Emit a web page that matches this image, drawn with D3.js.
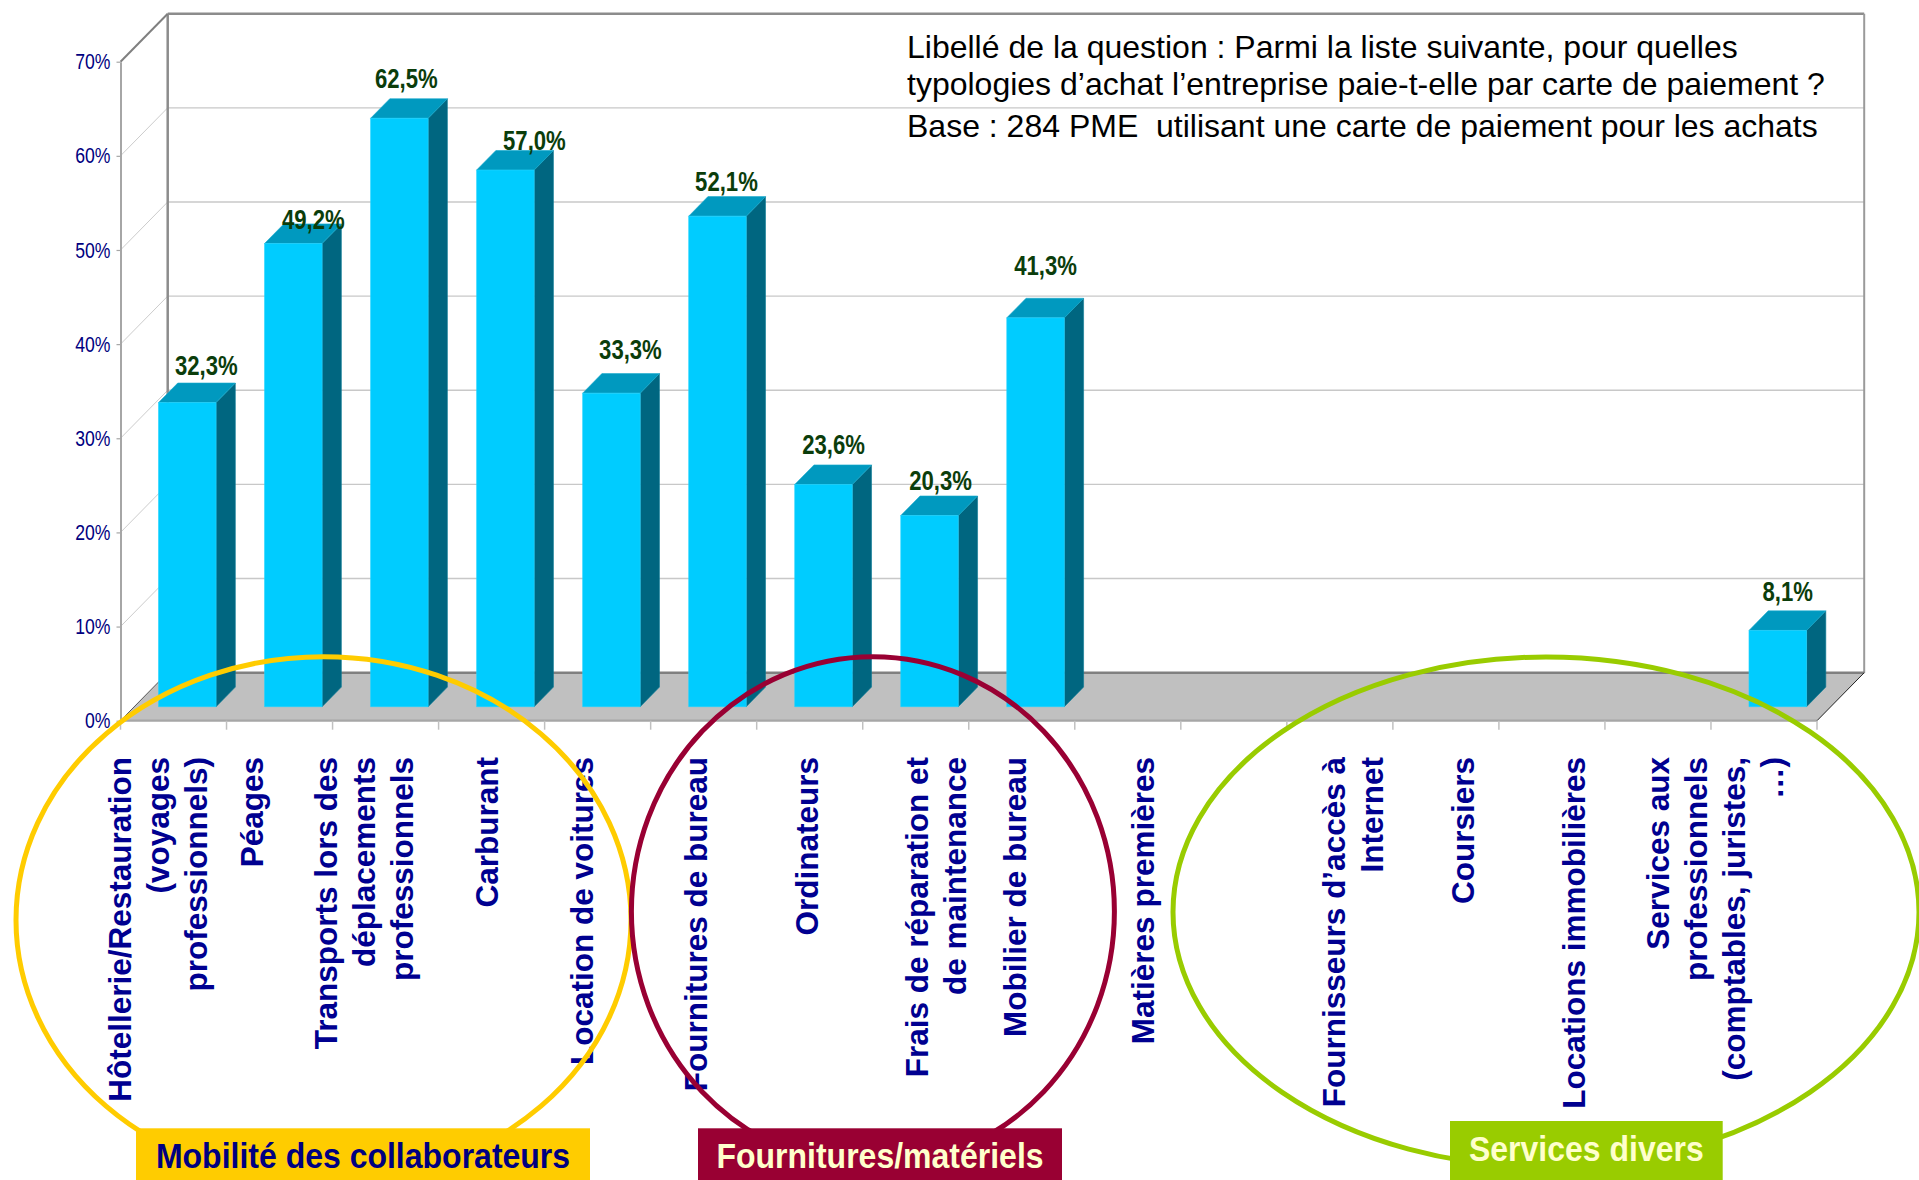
<!DOCTYPE html>
<html lang="fr">
<head>
<meta charset="utf-8">
<title>Typologies d’achat payées par carte de paiement</title>
<script src="https://cdn.jsdelivr.net/npm/d3@7"></script>
<style>
  html, body { margin: 0; padding: 0; background: #ffffff; }
  svg { display: block; }
  text { font-family: "Liberation Sans", Arial, Helvetica, sans-serif; }
</style>
</head>
<body>
<svg id="chart" width="1919" height="1180"></svg>
<script>
// ---- Data -----------------------------------------------------------------
// Purchase categories; "\n" marks where an axis label wraps.
const categories = [
  "Hôtellerie/Restauration\n(voyages\nprofessionnels)",
  "Péages",
  "Transports lors des\ndéplacements\nprofessionnels",
  "Carburant",
  "Location de voitures",
  "Fournitures de bureau",
  "Ordinateurs",
  "Frais de réparation et\nde maintenance",
  "Mobilier de bureau",
  "Matières premières",
  "",
  "Fournisseurs d’accès à\nInternet",
  "Coursiers",
  "Locations immobilières",
  "",
  "Services aux\nprofessionnels\n(comptables, juristes,\n…)"
];

// Share of companies paying the category by card (%); null = no bar.
const values = [32.3, 49.2, 62.5, 57.0, 33.3, 52.1, 23.6, 20.3, 41.3,
                null, null, null, null, null, null, 8.1];

const yTicks = [0, 10, 20, 30, 40, 50, 60, 70];
const yTickLabels = ["0%", "10%", "20%", "30%", "40%", "50%", "60%", "70%"];

const groupNames = ["Mobilité des collaborateurs", "Fournitures/matériels", "Services divers"];

const questionLines = [
  "Libellé de la question : Parmi la liste suivante, pour quelles",
  "typologies d’achat l’entreprise paie-t-elle par carte de paiement ?",
  "Base : 284 PME  utilisant une carte de paiement pour les achats"
];

// ---- Layout ---------------------------------------------------------------
const W = 1919, H = 1180;
const FRONT_LEFT = 120.5, FRONT_RIGHT = 1817;
const FLOOR_Y = 720.7, TOP_Y = 61.7;
const DEPTH_X = 47.2, DEPTH_Y = -48;      // receding vector of the 3D box
const BAR_Z0 = 0.292, BAR_Z1 = 0.70;       // bar depth inside the box
const BAR_FRACTION = 0.543;                // bar width / category slot

// horizontal nudges of the wrapped category labels, per category
const LABEL_SHIFT = [-13, -25, -19, -2, -13, -5, 0, 23, -4, 18, 0, 16, 20, 25, 0, -46];
// hand-placed offsets of the value labels
const VALUE_NUDGE = [[9, 2], [10, 15], [-3, -1], [19, 10], [9, -5], [-1, 4], [0, -1], [1, 4], [0, -13],
                     [0, 0], [0, 0], [0, 0], [0, 0], [0, 0], [0, 0], [0, 0]];

const groupStyle = [
  { color: "#FFCC00", text: "#000080", ellipse: [323.5, 920, 307.5, 263.3], box: [136, 1128.3, 454, 70] },
  { color: "#990033", text: "#FFFFCC", ellipse: [872.9, 911.5, 241.5, 254.8], box: [698, 1128.3, 364, 70] },
  { color: "#99CC00", text: "#FFFFCC", ellipse: [1546, 912, 373, 255], box: [1450, 1121, 272.7, 70] }
];

const svg = d3.select("#chart");
svg.append("rect").attr("width", W).attr("height", H).attr("fill", "#ffffff");

const x = d3.scaleBand()
  .domain(d3.range(categories.length))
  .range([FRONT_LEFT, FRONT_RIGHT])
  .paddingInner(0).paddingOuter(0);
const y = d3.scaleLinear().domain([0, 70]).range([FLOOR_Y, TOP_Y]);

// project a front-plane x and a value at depth z (0 = front, 1 = back wall)
const proj = (xf, v, z) => [xf + z * DEPTH_X, y(v) + z * DEPTH_Y];
const poly = pts => pts.map(p => p.join(",")).join(" ");

// ---- Walls ----------------------------------------------------------------
const walls = svg.append("g");
walls.append("polygon")
  .attr("points", poly([proj(FRONT_LEFT, 0, 1), proj(FRONT_LEFT, 70, 1), proj(FRONT_RIGHT, 70, 1), proj(FRONT_RIGHT, 0, 1)]))
  .attr("fill", "#ffffff");

const gridValues = yTicks.filter(v => v > 0 && v < 70);
walls.selectAll("line.grid").data(gridValues).join("line")
  .attr("class", "grid")
  .attr("x1", v => proj(FRONT_LEFT, v, 1)[0]).attr("y1", v => proj(FRONT_LEFT, v, 1)[1])
  .attr("x2", v => proj(FRONT_RIGHT, v, 1)[0]).attr("y2", v => proj(FRONT_RIGHT, v, 1)[1])
  .attr("stroke", "#c8c8c8").attr("stroke-width", 1.4);
walls.selectAll("line.side").data(gridValues).join("line")
  .attr("class", "side")
  .attr("x1", v => proj(FRONT_LEFT, v, 0)[0]).attr("y1", v => proj(FRONT_LEFT, v, 0)[1])
  .attr("x2", v => proj(FRONT_LEFT, v, 1)[0]).attr("y2", v => proj(FRONT_LEFT, v, 1)[1])
  .attr("stroke", "#cccccc").attr("stroke-width", 1);

// wall borders
const edge = (a, b, color, w) => walls.append("line")
  .attr("x1", a[0]).attr("y1", a[1]).attr("x2", b[0]).attr("y2", b[1])
  .attr("stroke", color).attr("stroke-width", w);
edge(proj(FRONT_LEFT, 70, 1), proj(FRONT_RIGHT, 70, 1), "#8c8c8c", 2.5);
edge(proj(FRONT_LEFT, 70, 1), proj(FRONT_LEFT, 0, 1), "#8c8c8c", 2.5);
edge(proj(FRONT_RIGHT, 70, 1), proj(FRONT_RIGHT, 0, 1), "#9a9a9a", 2);
edge(proj(FRONT_LEFT, 70, 0), proj(FRONT_LEFT, 70, 1), "#808080", 2);

// floor
walls.append("polygon")
  .attr("points", poly([proj(FRONT_LEFT, 0, 0), proj(FRONT_LEFT, 0, 1), proj(FRONT_RIGHT, 0, 1), proj(FRONT_RIGHT, 0, 0)]))
  .attr("fill", "#c0c0c0");
edge(proj(FRONT_LEFT, 0, 1), proj(FRONT_RIGHT, 0, 1), "#808080", 2.5);
edge(proj(FRONT_LEFT, 0, 0), proj(FRONT_RIGHT, 0, 0), "#a6a6a6", 2.2);
edge(proj(FRONT_RIGHT, 0, 0), proj(FRONT_RIGHT, 0, 1), "#222222", 1);
edge(proj(FRONT_LEFT, 0, 0), proj(FRONT_LEFT, 0, 1), "#555555", 1);

// category tick marks under the floor edge
walls.selectAll("line.ctick").data(d3.range(categories.length + 1)).join("line")
  .attr("class", "ctick")
  .attr("x1", i => FRONT_LEFT + i * x.step()).attr("x2", i => FRONT_LEFT + i * x.step())
  .attr("y1", FLOOR_Y).attr("y2", FLOOR_Y + 9)
  .attr("stroke", "#c0c0c0").attr("stroke-width", 1.5);

// ---- Value axis -----------------------------------------------------------
const TICK_SX = 0.8;
const yAxis = svg.append("g")
  .attr("transform", `translate(${FRONT_LEFT},0)`)
  .call(d3.axisLeft(y).tickValues(yTicks).tickFormat((d, i) => yTickLabels[i])
    .tickSize(4).tickSizeOuter(0).tickPadding(6));
yAxis.select(".domain").attr("stroke", "#a6a6a6").attr("stroke-width", 2);
yAxis.selectAll(".tick line").attr("stroke", "#a6a6a6").attr("stroke-width", 1.2);
yAxis.selectAll(".tick text")
  .attr("x", -10 / TICK_SX)
  .attr("transform", `scale(${TICK_SX},1)`)
  .attr("font-size", 22)
  .attr("font-family", "Liberation Sans, Arial, sans-serif")
  .attr("fill", "#000080");

// ---- Bars -----------------------------------------------------------------
const barData = values.map((v, i) => ({ i, v })).filter(d => d.v !== null);
const barW = x.bandwidth() * BAR_FRACTION;
const barLeft = i => x(i) + (x.bandwidth() - barW) / 2;

const bars = svg.append("g").selectAll("g.bar").data(barData).join("g").attr("class", "bar");
bars.append("polygon")
  .attr("points", d => {
    const xr = barLeft(d.i) + barW;
    return poly([proj(xr, 0, BAR_Z0), proj(xr, d.v, BAR_Z0), proj(xr, d.v, BAR_Z1), proj(xr, 0, BAR_Z1)]);
  })
  .attr("fill", "#006680").attr("stroke", "#0a7a96").attr("stroke-width", 0.6);
bars.append("polygon")
  .attr("points", d => {
    const xl = barLeft(d.i), xr = xl + barW;
    return poly([proj(xl, d.v, BAR_Z0), proj(xr, d.v, BAR_Z0), proj(xr, d.v, BAR_Z1), proj(xl, d.v, BAR_Z1)]);
  })
  .attr("fill", "#0099bf").attr("stroke", "#14aacc").attr("stroke-width", 0.6);
bars.append("polygon")
  .attr("points", d => {
    const xl = barLeft(d.i), xr = xl + barW;
    return poly([proj(xl, 0, BAR_Z0), proj(xl, d.v, BAR_Z0), proj(xr, d.v, BAR_Z0), proj(xr, 0, BAR_Z0)]);
  })
  .attr("fill", "#00ccff").attr("stroke", "#22d4ff").attr("stroke-width", 0.6);

// value labels above each bar
const VALUE_SX = 0.79;
const fmt = v => v.toFixed(1).replace(".", ",") + "%";
svg.append("g").selectAll("text").data(barData).join("text")
  .attr("transform", d => {
    const cx = proj(barLeft(d.i) + barW / 2, d.v, BAR_Z0)[0] + 10 + VALUE_NUDGE[d.i][0];
    const by = proj(barLeft(d.i), d.v, BAR_Z1)[1] - 10 + VALUE_NUDGE[d.i][1];
    return `translate(${cx},${by}) scale(${VALUE_SX},1)`;
  })
  .attr("text-anchor", "middle")
  .attr("font-size", 28).attr("font-weight", "bold")
  .attr("fill", "#0b3d0b")
  .text(d => fmt(d.v));

// ---- Question text --------------------------------------------------------
const qBaselines = [58.3, 95, 136.7];
svg.append("g").selectAll("text").data(questionLines).join("text")
  .attr("x", 907).attr("y", (d, i) => qBaselines[i])
  .attr("font-size", 32).attr("fill", "#000000")
  .style("white-space", "pre")
  .text(d => d);

// ---- Category labels (rotated, wrapped) -----------------------------------
const LABEL_TOP = 757, LINE_STEP = 38, LABEL_SIZE = 31.5;
const labelG = svg.append("g");
categories.forEach((name, i) => {
  if (!name) return;
  const lines = name.split("\n");
  const center = x(i) + x.bandwidth() / 2 + LABEL_SHIFT[i];
  const b1 = center - (lines.length - 1) * LINE_STEP / 2 + 8.5;
  lines.forEach((line, j) => {
    labelG.append("text")
      .attr("transform", `translate(${b1 + j * LINE_STEP},${LABEL_TOP}) rotate(-90)`)
      .attr("text-anchor", "end")
      .attr("font-size", LABEL_SIZE).attr("font-weight", "bold")
      .attr("fill", "#000090")
      .text(line);
  });
});

// ---- Group ellipses and captions ------------------------------------------
const groupsG = svg.append("g");
groupStyle.forEach((g, k) => {
  groupsG.append("ellipse")
    .attr("cx", g.ellipse[0]).attr("cy", g.ellipse[1])
    .attr("rx", g.ellipse[2]).attr("ry", g.ellipse[3])
    .attr("fill", "none").attr("stroke", g.color).attr("stroke-width", 5);
});
groupStyle.forEach((g, k) => {
  const [bx, by, bw, bh] = g.box;
  groupsG.append("rect")
    .attr("x", bx).attr("y", by).attr("width", bw).attr("height", bh)
    .attr("fill", g.color);
  const baseline = k === 2 ? by + 40 : by + 40;
  groupsG.append("text")
    .attr("transform", `translate(${bx + bw / 2},${baseline}) scale(1,1.08)`)
    .attr("text-anchor", "middle")
    .attr("font-size", 32).attr("font-weight", "bold")
    .attr("fill", g.text)
    .text(groupNames[k]);
});
</script>
</body>
</html>
